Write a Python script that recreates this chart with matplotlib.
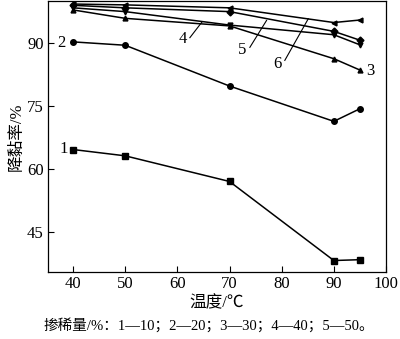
import matplotlib
matplotlib.use('Agg')
import matplotlib.pyplot as plt

plt.rcParams['font.family'] = ['Liberation Serif', 'Noto Sans CJK SC', 'DejaVu Sans']

# 温度
temp = [40, 50, 70, 90, 95]
# 降黏率 (各掺稀量)
s1 = [64.6, 63.1, 57.0, 38.2, 38.4]
s2 = [90.2, 89.4, 79.7, 71.3, 74.3]
s3 = [97.8, 95.8, 94.0, 86.2, 83.5]
s4 = [98.3, 97.4, 94.2, 91.9, 89.5]
s5 = [98.9, 98.3, 97.4, 92.7, 90.6]
s6 = [99.2, 99.0, 98.3, 94.8, 95.4]

series = [s1, s2, s3, s4, s5, s6]
markers = ['s', 'o', '^', 'v', 'D', '<']
xticks = [40, 50, 60, 70, 80, 90, 100]
yticks = [45, 60, 75, 90]

fig = plt.figure(figsize=(4, 3.39), dpi=100)
ax = fig.add_axes([0.12, 0.198, 0.845, 0.8])

for s, m in zip(series, markers):
    ms = 4 if m in ('s', 'o') else 3.5
    ax.plot(temp, s, color='black', lw=1.1, marker=m, ms=ms)

ax.set_xlim(35.2, 100)
ax.set_ylim(35.5, 100)
ax.set_xticks(xticks)
ax.set_yticks(yticks)
ax.tick_params(direction='in', length=4, width=0.8, labelsize=12, pad=3)
for sp in ax.spines.values():
    sp.set_linewidth(0.9)

# 曲线编号
ax.text(38.3, 64.8, '1', fontsize=12, ha='center', va='center')
ax.text(37.8, 89.9, '2', fontsize=12, ha='center', va='center')
ax.text(96.9, 83.2, '3', fontsize=12, ha='center', va='center')
ax.text(61.0, 90.9, '4', fontsize=12, ha='center', va='center')
ax.text(72.5, 88.3, '5', fontsize=12, ha='center', va='center')
ax.text(79.2, 85.0, '6', fontsize=12, ha='center', va='center')
ax.plot([62.4, 64.7], [91.2, 94.9], color='black', lw=0.8)
ax.plot([73.9, 77.1], [88.9, 95.3], color='black', lw=0.8)
ax.plot([80.6, 85.1], [85.8, 95.7], color='black', lw=0.8)

ax.set_xlabel('温度/℃', fontsize=12, labelpad=2)
ax.set_ylabel('降黏率/%', fontsize=12, labelpad=2)
fig.text(0.108, 0.041, '掺稀量/%：1—10；2—20；3—30；4—40；5—50。',
         fontsize=10.5, va='center')

fig.savefig('out.png', dpi=100)
